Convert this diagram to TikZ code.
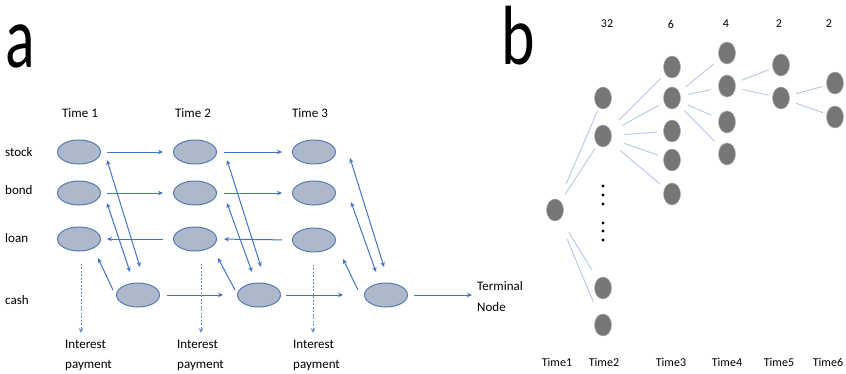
\documentclass[tikz,border=0pt]{standalone}
\usepackage{fontspec}
\setmainfont{Carlito}
\usetikzlibrary{arrows.meta,calc,shapes.geometric}
\definecolor{arr}{HTML}{4472C4}
\definecolor{ellfill}{HTML}{ADB9CA}
\definecolor{elldraw}{HTML}{5479B3}
\definecolor{edgeb}{HTML}{B4C7E7}
\definecolor{dotg}{HTML}{767676}
\begin{document}
\begin{tikzpicture}[x=1pt,y=-1pt,
 asset/.style={ellipse, draw=elldraw, fill=ellfill, line width=1pt, minimum width=43pt, minimum height=24pt, inner sep=0pt},
 lbl/.style={font=\fontsize{13}{20}\selectfont, inner sep=0pt},
 flow/.style={draw=arr, line width=1pt, -{Stealth[length=5pt,width=4.5pt]}},
 dflow/.style={draw=arr, line width=1pt, {Stealth[length=5pt,width=4.5pt]}-{Stealth[length=5pt,width=4.5pt]}},
 pay/.style={draw=arr!80, line width=0.8pt, dash pattern=on 2pt off 1.5pt, -{Stealth[length=5pt,width=4.5pt]}},
 tnode/.style={ellipse, fill=dotg, draw=dotg!60, line width=0.5pt, minimum width=17pt, minimum height=22pt, inner sep=0pt},
 tedge/.style={draw=edgeb, line width=0.9pt},
 blbl/.style={font=\fontsize{12}{14}\selectfont, inner sep=0pt}
]
\useasboundingbox (0,0) rectangle (846,373);

% panel letters
\node[font=\fontsize{88}{88}\selectfont, inner sep=0pt] (pa) at (20,46) {\scalebox{0.7}[1]{a}};
\node[font=\fontsize{84}{84}\selectfont, inner sep=0pt] (pb) at (518,36) {\scalebox{0.76}[1]{b}};

% ---------- panel a ----------
\node[lbl] (t1) at (80,113) {Time 1};
\node[lbl] (t2) at (193,113) {Time 2};
\node[lbl] (t3) at (310,113) {Time 3};
\node[lbl, anchor=west] (rs) at (5,152) {stock};
\node[lbl, anchor=west] (rb) at (5,190) {bond};
\node[lbl, anchor=west] (rl) at (5,238) {loan};
\node[lbl, anchor=west] (rc) at (5,300) {cash};

\node[asset] (s1) at (79,152) {};
\node[asset] (b1) at (79,193) {};
\node[asset] (l1) at (79,239) {};
\node[asset] (s2) at (195,152) {};
\node[asset] (b2) at (195,193) {};
\node[asset] (l2) at (195,239) {};
\node[asset] (s3) at (314,152) {};
\node[asset] (b3) at (314,193) {};
\node[asset] (l3) at (314,240) {};
\node[asset] (c1) at (138,295) {};
\node[asset] (c2) at (259,295) {};
\node[asset] (c3) at (386,295) {};

\node[lbl, anchor=west, align=left, font=\fontsize{13}{21}\selectfont] (term) at (477,297) {Terminal\\Node};
\node[lbl, anchor=north west, align=left] (i1) at (65,340) {Interest\\payment};
\node[lbl, anchor=north west, align=left] (i2) at (177,340) {Interest\\payment};
\node[lbl, anchor=north west, align=left] (i3) at (293,340) {Interest\\payment};

% horizontal flows
\draw[flow, shorten <=6pt, shorten >=10pt] (s1.east) -- (s2.west);
\draw[flow, shorten <=6pt, shorten >=10pt] (b1.east) -- (b2.west);
\draw[flow, shorten <=10pt, shorten >=6pt] (l2.west) -- (l1.east);
\draw[flow, shorten <=7pt, shorten >=10pt] (s2.east) -- (s3.west);
\draw[flow, shorten <=7pt, shorten >=10pt] (b2.east) -- (b3.west);
\draw[flow, shorten <=10pt, shorten >=7pt] (l3.west) -- (l2.east);
\draw[flow, shorten <=7pt, shorten >=14pt] (c1.east) -- (c2.west);
\draw[flow, shorten <=5pt, shorten >=21pt] (c2.east) -- (c3.west);
\draw[flow, shorten <=6pt, shorten >=5pt] (c3.east) -- (c3.east -| term.west);

% diagonal flows
\draw[dflow] ($(s1)+(28,8)$) -- ($(c1)+(2,-28)$);
\draw[dflow] ($(b1)+(28,10)$) -- ($(c1)+(-8,-23)$);
\draw[flow] ($(c1)+(-25,-5)$) -- ($(l1)+(19,19)$);
\draw[dflow] ($(s2)+(32,8)$) -- ($(c2)+(2,-28)$);
\draw[dflow] ($(b2)+(32,10)$) -- ($(c2)+(-7,-23)$);
\draw[flow] ($(c2)+(-24,-5)$) -- ($(l2)+(23,19)$);
\draw[dflow] ($(s3)+(36,6)$) -- ($(c3)+(-2,-28)$);
\draw[dflow] ($(b3)+(37,9)$) -- ($(c3)+(-10,-23)$);
\draw[flow] ($(c3)+(-28,-5)$) -- ($(l3)+(29,19)$);

% interest payments
\coordinate (p1) at ($(l1.south)+(2,12)$);
\coordinate (p2) at ($(l2.south)+(6,12)$);
\coordinate (p3) at ($(l3.south)+(-1,12)$);
\draw[pay, shorten >=7pt] (p1) -- (p1 |- i1.north);
\draw[pay, shorten >=7pt] (p2) -- (p2 |- i2.north);
\draw[pay, shorten >=7pt] (p3) -- (p3 |- i3.north);

% ---------- panel b ----------
\node[blbl] (h2) at (607,24) {32};
\node[blbl] (h3) at (671,24) {6};
\node[blbl] (h4) at (726,24) {4};
\node[blbl] (h5) at (779,24) {2};
\node[blbl] (h6) at (829,24) {2};
\node[blbl] (f1) at (557,362) {Time1};
\node[blbl] (f2) at (604,362) {Time2};
\node[blbl] (f3) at (671,362) {Time3};
\node[blbl] (f4) at (727,362) {Time4};
\node[blbl] (f5) at (779,362) {Time5};
\node[blbl] (f6) at (828,362) {Time6};

\node[tnode] (n1) at (555,210) {};
\node[tnode] (n2a) at (603,98) {};
\node[tnode] (n2b) at (603,136) {};
\node[tnode] (n2c) at (603,288) {};
\node[tnode] (n2d) at (603,325) {};
\node[tnode] (n3a) at (672,67) {};
\node[tnode] (n3b) at (672,98) {};
\node[tnode] (n3c) at (672,131) {};
\node[tnode] (n3d) at (672,160) {};
\node[tnode] (n3e) at (672,194) {};
\node[tnode] (n4a) at (727,53) {};
\node[tnode] (n4b) at (727,86) {};
\node[tnode] (n4c) at (727,122) {};
\node[tnode] (n4d) at (727,154) {};
\node[tnode] (n5a) at (781,65) {};
\node[tnode] (n5b) at (781,98) {};
\node[tnode] (n6a) at (835,83) {};
\node[tnode] (n6b) at (835,117) {};

\draw[tedge, shorten <=18pt, shorten >=3pt] (n1) -- (n2a);
\draw[tedge, shorten <=8pt, shorten >=5pt] (n1) -- (n2b);
\draw[tedge, shorten <=16pt, shorten >=11pt] (n1) -- (n2c);
\draw[tedge, shorten <=21pt, shorten >=14pt] (n1) -- (n2d);
\foreach \t in {n3a,n3b,n3c,n3d,n3e}
  \draw[tedge, shorten <=13pt, shorten >=6pt] (n2b) -- (\t);
\foreach \t in {n4a,n4b,n4c,n4d}
  \draw[tedge, shorten <=8pt, shorten >=8pt] (n3b) -- (\t);
\foreach \t in {n5a,n5b}
  \draw[tedge, shorten <=7pt, shorten >=4pt] (n4b) -- (\t);
\foreach \t in {n6a,n6b}
  \draw[tedge, shorten <=7pt, shorten >=4pt] (n5b) -- (\t);

\foreach \yy in {186,195,204,223,231,240}
  \fill (603,\yy) circle (1.6pt);
\end{tikzpicture}
\end{document}
